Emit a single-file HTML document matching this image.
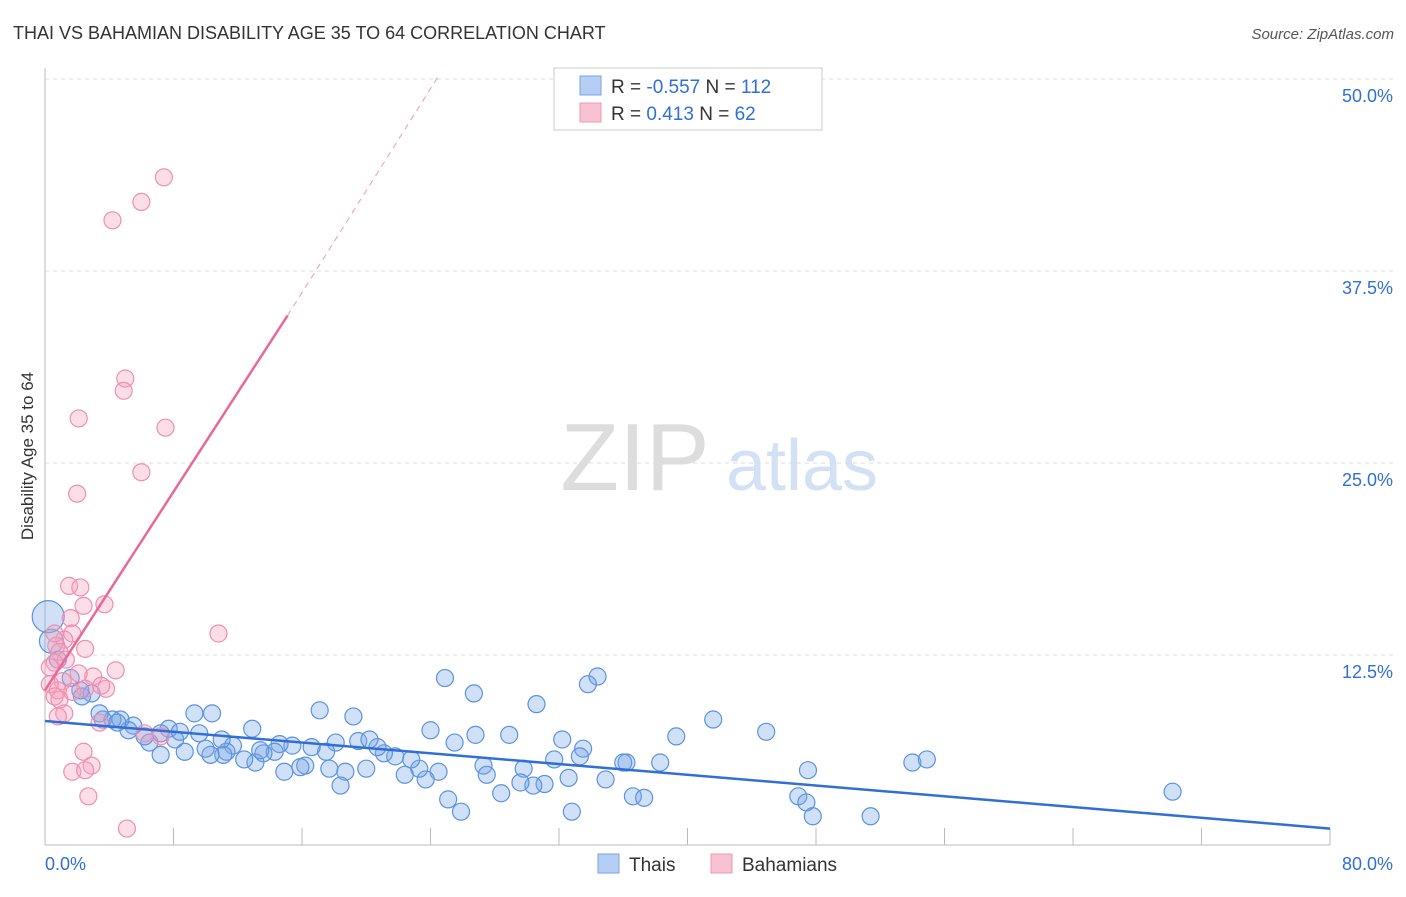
<!DOCTYPE html>
<html><head><meta charset="utf-8"><style>
body{margin:0;background:#fff;font-family:"Liberation Sans",sans-serif;}
svg text{font-family:"Liberation Sans",sans-serif;}
</style></head><body>
<svg id="chart" width="1406" height="892" xmlns="http://www.w3.org/2000/svg">
<text x="13" y="39" font-size="18" fill="#333">THAI VS BAHAMIAN DISABILITY AGE 35 TO 64 CORRELATION CHART</text>
<text x="1394" y="39" font-size="15" fill="#555" font-style="italic" text-anchor="end">Source: ZipAtlas.com</text>
<text x="33" y="456" font-size="17" fill="#333" text-anchor="middle" transform="rotate(-90 33 456)">Disability Age 35 to 64</text>
<g>
<text x="635" y="490" font-size="96" fill="#ddd" font-family="Liberation Serif,serif" text-anchor="middle">ZIP</text>
<text x="802" y="490" font-size="72" fill="#d2e1f3" text-anchor="middle">atlas</text>
</g>
<g id="grid"></g><g id="axes"></g><g id="pts"></g><g id="lines"></g>
<g>
<rect x="554" y="68" width="268" height="62" fill="#fff" stroke="#ccc"/>
<rect x="580" y="76" width="21" height="19" fill="#b4cff3" stroke="#7aa6e0"/>
<rect x="580" y="103" width="21" height="19" fill="#f8c2d3" stroke="#ee9ab5"/>
<text x="611" y="93" font-size="19" fill="#333">R = <tspan fill="#2f6fd6">-0.557</tspan>   N = <tspan fill="#2f6fd6">112</tspan></text>
<text x="611" y="120" font-size="19" fill="#333">R =   <tspan fill="#2f6fd6">0.413</tspan>   N =  <tspan fill="#2f6fd6">62</tspan></text>
</g>
<g>
<rect x="598" y="854" width="21" height="19" fill="#b4cff3" stroke="#7aa6e0"/>
<text x="629" y="871" font-size="19" fill="#333">Thais</text>
<rect x="711" y="854" width="21" height="19" fill="#f8c2d3" stroke="#ee9ab5"/>
<text x="742" y="871" font-size="19" fill="#333">Bahamians</text>
</g>
</svg>
<script>
const yTicks=[12.5,25,37.5,50];
const yTickLabels=["12.5%","25.0%","37.5%","50.0%"];
const xTickLabels=["0.0%","80.0%"];
const thaiX=[34.4,33.8,24.9,26.7,30.6,17.1,19.2,9.3,10.4,41.6,44.9,70.2,54,54.9,47.5,46.9,47.4,47.8,51.4,39.3,38.3,36.2,36.0,34.9,36.6,37.3,32.8,32.6,32.2,33.5,33.3,31.7,31.1,30.4,29.8,29.6,28.9,28.4,27.3,27.5,26.8,25.9,25.1,25.5,24.5,24.0,23.7,23.3,22.8,22.4,21.8,21.1,20.7,20.0,19.5,18.7,18.4,18.1,17.7,17.5,16.6,16.2,15.9,15.4,14.9,14.6,14.3,13.6,13.1,12.4,12.9,11.7,11.3,11.1,10.3,10.0,9.6,8.7,8.1,7.7,7.2,6.5,6.2,5.5,5.2,4.7,4.2,3.6,3.4,2.9,2.3,2.2,1.6,0.8,0.4,0.2,4.5,7.2,11.0,8.4,13.4,20.2];
const thaiY=[11.1,10.6,11.0,10.0,9.3,8.9,8.5,8.7,8.7,8.3,7.5,3.6,5.5,5.7,5.0,3.3,2.9,2.0,2.0,7.2,5.5,5.5,5.5,4.4,3.3,3.2,2.3,4.5,7.0,6.4,5.9,5.7,4.1,4.0,5.1,4.2,7.3,3.5,5.3,4.7,7.3,2.3,3.1,6.8,4.9,7.6,4.4,5.1,5.7,4.7,5.9,6.1,6.5,5.1,6.9,4.9,4.0,6.8,5.1,6.2,6.5,5.3,5.2,6.6,4.9,6.7,6.2,6.1,5.5,5.7,7.7,6.6,6.2,6.0,6.0,6.4,7.4,6.2,7.0,7.7,6.0,6.8,7.2,7.9,7.6,8.3,8.3,8.3,8.7,10.0,9.8,10.2,11.0,12.2,13.4,15.0,8.1,7.4,7.0,7.5,6.3,7.0];
const bahX=[7.4,6.0,4.2,5.0,4.9,2.1,7.5,6.0,2.0,1.5,2.2,3.7,2.4,10.8,1.6,1.7,1.2,0.7,2.5,0.9,1.3,0.6,0.3,4.4,3.0,2.1,1.1,0.3,3.8,2.5,0.8,1.7,0.6,3.5,1.2,3.4,0.8,6.2,7.2,2.4,2.9,1.7,2.5,2.7,5.1,0.6,0.9];
const bahY=[43.6,42.0,40.8,30.5,29.7,27.9,27.3,24.4,23.0,17.0,16.9,15.8,15.7,13.9,14.9,13.9,13.5,13.1,12.9,12.7,12.2,12.0,11.7,11.5,11.1,11.3,10.8,10.6,10.3,10.3,10.2,10.1,9.8,10.5,8.7,8.1,8.5,7.4,7.2,6.2,5.3,4.9,5.0,3.3,1.2,13.9,9.6];
const thaiFit=[[0,8.2],[80,1.2]];
const bahFitSolid=[[0,10.2],[15.1,34.6]];
const bahFitDash=[[15.1,34.6],[24.5,50.2]];
const X=v=>45+v/80*1285, Y=v=>847-v/50*768;
const NS="http://www.w3.org/2000/svg";
function mk(tag,attrs,parent){const e=document.createElementNS(NS,tag);for(const k in attrs)e.setAttribute(k,attrs[k]);document.getElementById(parent).appendChild(e);return e;}
yTicks.forEach((t,i)=>{
 const l=mk('line',{x1:45,x2:1394,y1:Y(t),y2:Y(t),stroke:'#ddd','stroke-dasharray':'4,4'},'grid');
 
 
 const tx=mk('text',{x:1393,y:Y(t)+23,'font-size':18,fill:'#2f6fd6','text-anchor':'end'},'grid');
 tx.textContent=yTickLabels[i];
 
 
});
let a=mk('line',{x1:45,x2:45,y1:68,y2:845,stroke:'#bbb'},'axes');


a=mk('line',{x1:45,x2:1330,y1:845,y2:845,stroke:'#bbb'},'axes');


for(let i=0;i<=10;i++){const t=mk('line',{x1:X(i*8),x2:X(i*8),y1:828,y2:845,stroke:'#bbb'},'axes');
 
 }
let t1=mk('text',{x:45,y:870,'font-size':18,fill:'#2f6fd6'},'axes');t1.textContent=xTickLabels[0];


t1=mk('text',{x:1393,y:870,'font-size':18,fill:'#2f6fd6','text-anchor':'end'},'axes');t1.textContent=xTickLabels[1];


thaiX.forEach((v,i)=>{const r=(v<0.5&&thaiY[i]>14)?16:(v<0.5?12:8.5);
 const c=mk('circle',{cx:X(v),cy:Y(thaiY[i]),r:r,fill:'rgba(120,165,230,0.35)',stroke:'#5b93e0','stroke-width':1.2},'pts');
 
 });
bahX.forEach((v,i)=>{
 const c=mk('circle',{cx:X(v),cy:Y(bahY[i]),r:8.5,fill:'rgba(245,160,190,0.35)',stroke:'#ef8fb0','stroke-width':1.2},'pts');
 
 });
let L=mk('line',{x1:X(thaiFit[0][0]),y1:Y(thaiFit[0][1]),x2:X(thaiFit[1][0]),y2:Y(thaiFit[1][1]),stroke:'#2f6fd6','stroke-width':2.5},'lines');


L=mk('line',{x1:X(bahFitSolid[0][0]),y1:Y(bahFitSolid[0][1]),x2:X(bahFitSolid[1][0]),y2:Y(bahFitSolid[1][1]),stroke:'#e8689a','stroke-width':2.5},'lines');


L=mk('line',{x1:X(bahFitDash[0][0]),y1:Y(bahFitDash[0][1]),x2:X(bahFitDash[1][0]),y2:Y(bahFitDash[1][1]),stroke:'#f0a8c2','stroke-width':1.2,'stroke-dasharray':'6,5'},'lines');


</script>
</body></html>
